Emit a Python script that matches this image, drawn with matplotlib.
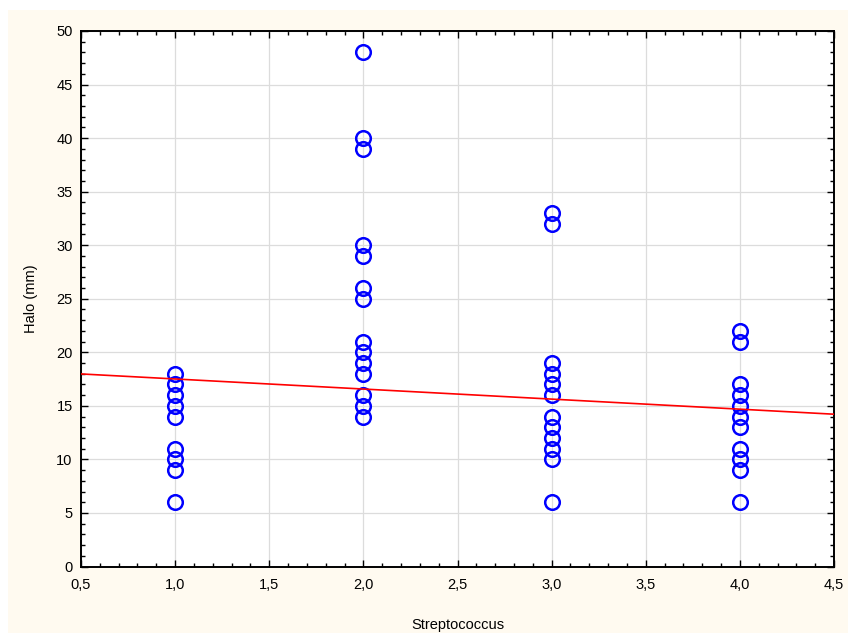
import matplotlib
matplotlib.use("Agg")
import matplotlib.pyplot as plt
import numpy as np
from matplotlib.patches import Rectangle
from matplotlib.ticker import MultipleLocator, FuncFormatter

# Data
x_groups = [1.0, 2.0, 3.0, 4.0]
halo_g1 = [18, 17, 16, 15, 14, 11, 10, 9, 6]
halo_g2 = [48, 40, 39, 30, 29, 26, 25, 21, 20, 19, 18, 16, 15, 14]
halo_g3 = [33, 32, 19, 18, 17, 16, 14, 13, 12, 11, 10, 6]
halo_g4 = [22, 21, 17, 16, 15, 14, 13, 11, 10, 9, 6]
fit_intercept = 18.45
fit_slope = -0.94

xticks = [0.5, 1.0, 1.5, 2.0, 2.5, 3.0, 3.5, 4.0, 4.5]
yticks = [0, 5, 10, 15, 20, 25, 30, 35, 40, 45, 50]

plt.rcParams['font.family'] = ['Liberation Sans', 'DejaVu Sans']

fig = plt.figure(figsize=(8.52, 6.37), dpi=100)
fig.patch.set_facecolor('white')
bg = Rectangle((8/852, 1-633/637), 840/852, 623/637,
               transform=fig.transFigure, facecolor='#FFFAF0',
               edgecolor='none', zorder=-10)
fig.add_artist(bg)

ax = fig.add_axes([81/852, 1-566.5/637, 753/852, 535.5/637])
ax.set_zorder(1)
ax.set_facecolor('white')

groups = [halo_g1, halo_g2, halo_g3, halo_g4]
for xv, ys in zip(x_groups, groups):
    ax.plot([xv]*len(ys), ys, linestyle='none', marker='o', markersize=10.5,
            markerfacecolor='none', markeredgecolor='#0000FF',
            markeredgewidth=1.8, zorder=3)

xl = np.array([0.5, 4.5])
ax.plot(xl, fit_intercept + fit_slope*xl, color='#FF0000', linewidth=1.2, zorder=4)

ax.set_xlim(0.5, 4.5)
ax.set_ylim(0, 50)
ax.set_xticks(xticks)
ax.set_yticks(yticks)
ax.xaxis.set_minor_locator(MultipleLocator(0.1))
ax.yaxis.set_minor_locator(MultipleLocator(1))
ax.xaxis.set_major_formatter(FuncFormatter(lambda v, p: f"{v:.1f}".replace('.', ',')))
ax.yaxis.set_major_formatter(FuncFormatter(lambda v, p: f"{v:.0f}"))
ax.grid(True, which='major', color='#DCDCDC', linewidth=0.9, zorder=0)
ax.set_axisbelow(True)

ax.tick_params(which='both', direction='in', top=True, right=True,
               labelsize=10.5, width=1, color='black')
ax.tick_params(which='major', length=5)
ax.tick_params(axis='x', which='major', pad=8)
ax.tick_params(axis='y', which='major', pad=6)
ax.tick_params(which='minor', length=3)
for s in ax.spines.values():
    s.set_linewidth(1.4)
    s.set_color('black')

ax.set_xlabel('Streptococcus', fontsize=10.5, labelpad=19)
ax.set_ylabel('Halo (mm)', fontsize=10.5, labelpad=13)

fig.savefig('out.png', dpi=100, facecolor=fig.get_facecolor())
